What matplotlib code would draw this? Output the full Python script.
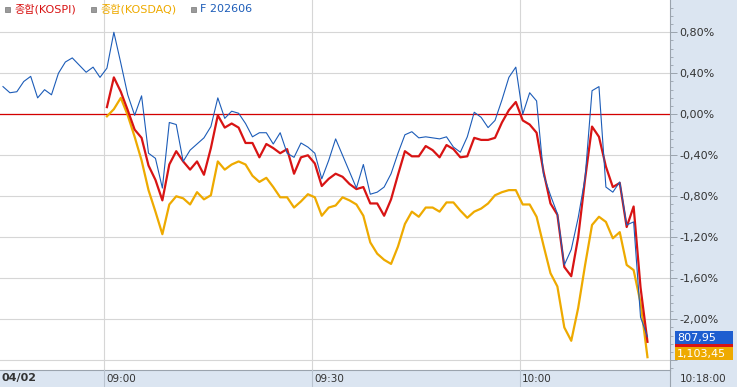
import matplotlib
matplotlib.use("Agg")
import matplotlib.pyplot as plt
from matplotlib.patches import Rectangle
from matplotlib.lines import Line2D
from matplotlib.ticker import MultipleLocator, FuncFormatter
import numpy as np

# ---------------------------------------------------------------------------
# Data (% change, 1-minute points). Futures start 08:45, spot indices 09:00
# ---------------------------------------------------------------------------

FUT_START = 0      # 08:45
SPOT_START = 15    # 09:00

futures_pct = [
    0.27, 0.21, 0.22, 0.32, 0.37, 0.16, 0.24, 0.19, 0.40, 0.51,
    0.55, 0.48, 0.41, 0.46, 0.36, 0.45, 0.80, 0.50, 0.19, -0.01,
    0.18, -0.38, -0.43, -0.72, -0.08, -0.10, -0.46, -0.35, -0.29, -0.23,
    -0.12, 0.16, -0.04, 0.03, 0.01, -0.09, -0.22, -0.18, -0.18, -0.29,
    -0.18, -0.38, -0.42, -0.28, -0.32, -0.38, -0.63, -0.45, -0.24, -0.40,
    -0.56, -0.72, -0.49, -0.78, -0.76, -0.71, -0.58, -0.38, -0.20, -0.17,
    -0.23, -0.22, -0.23, -0.24, -0.22, -0.32, -0.37, -0.22, 0.02, -0.03,
    -0.13, -0.06, 0.14, 0.36, 0.46, 0.00, 0.21, 0.13, -0.59, -0.79,
    -0.97, -1.47, -1.32, -1.01, -0.62, 0.23, 0.27, -0.71, -0.76, -0.66,
    -1.08, -1.05, -1.98, -2.17,
]

kospi_pct = [
    0.07, 0.36, 0.22, 0.04, -0.15, -0.23, -0.50, -0.64, -0.84, -0.49,
    -0.36, -0.46, -0.54, -0.46, -0.59, -0.33, -0.01, -0.13, -0.09, -0.13,
    -0.28, -0.28, -0.42, -0.29, -0.33, -0.38, -0.34, -0.58, -0.42, -0.40,
    -0.48, -0.70, -0.63, -0.58, -0.61, -0.68, -0.73, -0.71, -0.87, -0.87,
    -0.99, -0.83, -0.59, -0.36, -0.41, -0.41, -0.31, -0.35, -0.42, -0.30,
    -0.34, -0.42, -0.41, -0.23, -0.25, -0.25, -0.23, -0.08, 0.04, 0.12,
    -0.06, -0.10, -0.18, -0.56, -0.87, -0.98, -1.49, -1.58, -1.20, -0.63,
    -0.12, -0.22, -0.51, -0.71, -0.67, -1.10, -0.90, -1.69, -2.22,
]

kosdaq_pct = [
    -0.02, 0.05, 0.16, -0.01, -0.22, -0.45, -0.74, -0.95, -1.17, -0.88,
    -0.80, -0.82, -0.88, -0.76, -0.83, -0.79, -0.46, -0.54, -0.49, -0.46,
    -0.49, -0.60, -0.66, -0.62, -0.71, -0.81, -0.81, -0.91, -0.85, -0.78,
    -0.81, -0.99, -0.91, -0.89, -0.81, -0.84, -0.88, -0.99, -1.25, -1.36,
    -1.42, -1.46, -1.29, -1.07, -0.95, -1.00, -0.91, -0.91, -0.95, -0.86,
    -0.86, -0.94, -1.01, -0.95, -0.92, -0.87, -0.79, -0.76, -0.74, -0.74,
    -0.88, -0.88, -1.00, -1.28, -1.55, -1.68, -2.08, -2.21, -1.89, -1.47,
    -1.08, -1.00, -1.05, -1.21, -1.15, -1.47, -1.52, -1.84, -2.37,
]

time_ticks = {"09:00": 15, "09:30": 45, "10:00": 75}
date_label = "04/02"
end_label = "10:18:00"
last_fut = "807,95"
last_kosdaq = "1,103,45"

# ---------------------------------------------------------------------------
# Style
# ---------------------------------------------------------------------------

C_KOSPI = "#d81414"
C_KOSDAQ = "#eeaa00"
C_FUT = "#1c5cb8"
PANEL = "#dbe5f1"
GRID = "#d6d6d6"
EDGE = "#9aa3ad"
TXT = "#333333"

W, H = 737, 387
PLOT_R = 670   # px, right edge of plot area
PLOT_B = 370   # px, bottom edge of plot area

fig = plt.figure(figsize=(W / 100, H / 100), dpi=100)
fig.patch.set_facecolor(PANEL)
ax = fig.add_axes([0, 1 - PLOT_B / H, PLOT_R / W, PLOT_B / H])
ax.set_facecolor("white")

x_fut = np.arange(FUT_START, FUT_START + len(futures_pct))
x_spot = np.arange(SPOT_START, SPOT_START + len(kospi_pct))

ax.plot(x_spot, kosdaq_pct, color=C_KOSDAQ, lw=1.6, zorder=3)
ax.plot(x_fut, futures_pct, color=C_FUT, lw=0.8, zorder=4)
ax.plot(x_spot, kospi_pct, color=C_KOSPI, lw=1.6, zorder=3)

ax.set_xlim(-0.43, 96.25)
ax.set_ylim(-2.495, 1.115)

# grid
ax.yaxis.set_major_locator(MultipleLocator(0.4))
ax.yaxis.set_minor_locator(MultipleLocator(0.08))
ax.yaxis.grid(True, which="major", color=GRID, lw=0.8, zorder=0)
for lab, k in time_ticks.items():
    ax.axvline(k - 0.4, color=GRID, lw=0.8, zorder=0)
ax.axhline(0, color="#d40000", lw=0.9, zorder=2)


def pct_label(v, _):
    # the -2.40 label sits behind the last-value boxes
    if v < -2.2:
        return ""
    return f"{v:.2f}%".replace(".", ",").replace("−", "-")


# right-hand axis
ax.yaxis.tick_right()
ax.yaxis.set_major_formatter(FuncFormatter(pct_label))
ax.tick_params(axis="y", which="major", length=5, width=0.7, color=EDGE,
               labelsize=8, labelcolor=TXT, pad=2)
ax.tick_params(axis="y", which="minor", length=2.5, width=0.6, color=EDGE)
ax.set_xticks([])
for s in ["top", "left"]:
    ax.spines[s].set_visible(False)
for s in ["right", "bottom"]:
    ax.spines[s].set_color(EDGE)
    ax.spines[s].set_linewidth(0.8)

# bottom time strip
fy = (H - PLOT_B) / H
for lab, k in time_ticks.items():
    xf = ax.transData.transform((k - 0.4, 0))[0] / W
    fig.add_artist(Line2D([xf, xf], [0, fy], color="#b9c3cf", lw=0.8))
    fig.text(xf + 2 / W, 8.5 / H, lab, fontsize=7.5, color=TXT,
             ha="left", va="center")
fig.add_artist(Line2D([PLOT_R / W, PLOT_R / W], [0, fy], color=EDGE, lw=0.8))
fig.text(2 / W, 8.5 / H, date_label, fontsize=8, fontweight="bold",
         color=TXT, ha="left", va="center")
fig.text((PLOT_R + 33) / W, 8.5 / H, end_label, fontsize=7.5, color=TXT,
         ha="center", va="center")

# last value boxes
bx0, bw, bh = 675 / W, 58 / W, 13 / H
def value_box(ytop_px, color, text):
    y0 = 1 - (ytop_px + 13) / H
    fig.add_artist(Rectangle((bx0, y0), bw, bh, transform=fig.transFigure,
                             facecolor=color, edgecolor="none", zorder=5))
    fig.text(bx0 + 2 / W, y0 + bh / 2, text, fontsize=8, color="white",
             ha="left", va="center", zorder=6)

fig.add_artist(Rectangle((bx0, 1 - 347 / H), bw, 3 / H, transform=fig.transFigure,
                         facecolor=C_KOSPI, edgecolor="none", zorder=5))
value_box(331, "#1e5ed0", last_fut)
value_box(347, C_KOSDAQ, last_kosdaq)

# legend
legend = [("종합(KOSPI)", C_KOSPI, 5), ("종합(KOSDAQ)", C_KOSDAQ, 91),
          ("F 202606", C_FUT, 191)]
for text, col, px in legend:
    fig.add_artist(Rectangle((px / W, 1 - 12 / H), 5 / W, 5 / H,
                             transform=fig.transFigure, facecolor="#9a9a9a",
                             edgecolor="#777777", lw=0.5, zorder=5))
    fig.text((px + 9) / W, 1 - 9.5 / H, text, fontsize=8, color=col,
             family=["DejaVu Sans", "Noto Sans CJK KR"], ha="left", va="center")

fig.savefig("out.png", dpi=100, facecolor=fig.get_facecolor())
